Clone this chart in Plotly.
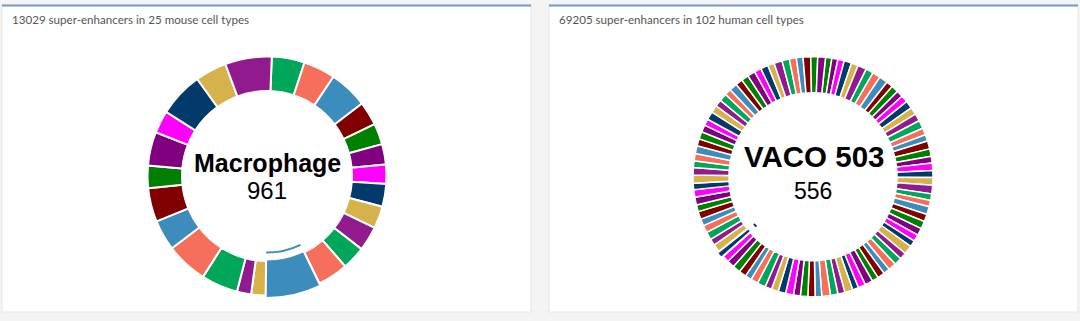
import plotly.graph_objects as go

# ---------------- data ----------------
mouse_title = "13029 super-enhancers in 25 mouse cell types"
human_title = "69205 super-enhancers in 102 human cell types"

mouse_values = [579, 561, 683, 421, 370, 360, 338, 403, 392, 432,
                414, 539, 961, 255, 252, 644, 737, 539, 597, 392,
                597, 396, 791, 554, 822]
mouse_highlight_index = 12
mouse_highlight_label = "Macrophage"

human_values = [590, 560, 600, 700, 640, 820, 700, 760, 790, 625,
                660, 610, 640, 720, 700, 690, 760, 650, 600, 755,
                700, 620, 680, 640, 730, 790, 610, 600, 745, 670,
                720, 680, 630, 590, 820, 640, 700, 735, 600, 670,
                610, 730, 690, 560, 760, 650, 700, 800, 615, 670,
                690, 640, 740, 700, 650, 620, 780, 680, 600, 685,
                720, 700, 650, 556, 760, 610, 730, 690, 640, 729,
                640, 720, 690, 600, 750, 700, 620, 680, 735, 650,
                700, 660, 610, 770, 690, 640, 720, 600, 745, 650,
                680, 720, 640, 700, 610, 760, 690, 650, 620, 715,
                640, 715]
human_highlight_index = 63
human_highlight_label = "VACO 503"

# ---------------- styles ----------------
G, S, LB, DR, DG, P, M, N, GO, V = ("#00a65a", "#f56f5a", "#3c8dbc", "#800000", "#008000",
                                   "#800080", "#ff00ff", "#023a6b", "#d7b24a", "#921a8f")
PALETTE = [G, S, LB, DR, DG, P, M, N, GO, V]
mouse_colors = [G, S, LB, DR, DG, P, M, N, GO, V, G, S, LB, GO, V, G, S, LB, DR, DG, P, M, N, GO, V]
human_colors = [PALETTE[(i + 4) % 10] for i in range(len(human_values))]
CLEAR = "rgba(0,0,0,0)"

W, H = 1080, 321


def px(x):
    return x / W


def py(y):
    return 1 - y / H


def domain(cx, cy, r):
    return dict(x=[px(cx - r), px(cx + r)], y=[py(cy + r), py(cy - r)])


def donut(fig, values, colors, cx, cy, r_out, r_in, rotation, hi, line_w):
    n = len(values)
    # full ring
    fig.add_trace(go.Pie(
        values=values, sort=False, direction="clockwise", rotation=rotation,
        hole=r_in / r_out, textinfo="none", hoverinfo="none",
        marker=dict(colors=colors, line=dict(color="white", width=line_w)),
        domain=domain(cx, cy, r_out),
    ))
    # hovered (enlarged) slice
    fig.add_trace(go.Pie(
        values=values, sort=False, direction="clockwise", rotation=rotation,
        hole=(r_in - 1.5) / (r_out + 2.5), textinfo="none", hoverinfo="none",
        marker=dict(colors=[colors[i] if i == hi else CLEAR for i in range(n)],
                    line=dict(color="white", width=[2 if i == hi else 0 for i in range(n)])),
        domain=domain(cx, cy, r_out + 2.5),
    ))
    # thin highlight arc inside the hole
    fig.add_trace(go.Pie(
        values=values, sort=False, direction="clockwise", rotation=rotation,
        hole=(r_in - 9.5) / (r_in - 7.5), textinfo="none", hoverinfo="none",
        marker=dict(colors=[colors[i] if i == hi else CLEAR for i in range(n)],
                    line=dict(width=0)),
        domain=domain(cx, cy, r_in - 7.5),
    ))


fig = go.Figure()
donut(fig, mouse_values, mouse_colors, 267, 176, 119.5, 85, 2.3, mouse_highlight_index, 2)
donut(fig, human_values, human_colors, 813, 176.7, 120, 84, 6, human_highlight_index, 1.5)

shapes = []
for x0, x1 in [(2, 531), (549, 1078)]:
    shapes.append(dict(type="rect", xref="paper", yref="paper", x0=px(x0), x1=px(x1),
                       y0=py(312), y1=py(5), fillcolor="white",
                       line=dict(color="#e6e6e6", width=1), layer="below"))
    shapes.append(dict(type="line", xref="paper", yref="paper", x0=px(x0), x1=px(x1),
                       y0=py(5.5), y1=py(5.5), line=dict(color="#6e9cc4", width=2), layer="below"))

title_font = dict(family="Lato, Roboto, sans-serif", size=11.6, color="#555555")
center_font = dict(family="Liberation Sans, Arial, sans-serif", color="black")
annotations = [
    dict(text=mouse_title, x=px(10), y=py(19), xref="paper", yref="paper",
         xanchor="left", yanchor="middle", showarrow=False, font=title_font),
    dict(text=human_title, x=px(557), y=py(19), xref="paper", yref="paper",
         xanchor="left", yanchor="middle", showarrow=False, font=title_font),
    dict(text="<b>" + mouse_highlight_label + "</b>", x=px(267), y=py(163), xref="paper", yref="paper",
         xanchor="center", yanchor="middle", showarrow=False, font=dict(center_font, size=25)),
    dict(text=str(mouse_values[mouse_highlight_index]), x=px(267), y=py(191), xref="paper", yref="paper",
         xanchor="center", yanchor="middle", showarrow=False, font=dict(center_font, size=24)),
    dict(text="<b>" + human_highlight_label + "</b>", x=px(813.5), y=py(157), xref="paper", yref="paper",
         xanchor="center", yanchor="middle", showarrow=False, font=dict(center_font, size=29.5)),
    dict(text=str(human_values[human_highlight_index]), x=px(813), y=py(191), xref="paper", yref="paper",
         xanchor="center", yanchor="middle", showarrow=False, font=dict(center_font, size=23)),
]

fig.update_layout(
    width=W, height=H, margin=dict(l=0, r=0, t=0, b=0),
    paper_bgcolor="#f4f4f4", plot_bgcolor="#f4f4f4",
    showlegend=False, shapes=shapes, annotations=annotations,
)

fig.write_html("out.html")
